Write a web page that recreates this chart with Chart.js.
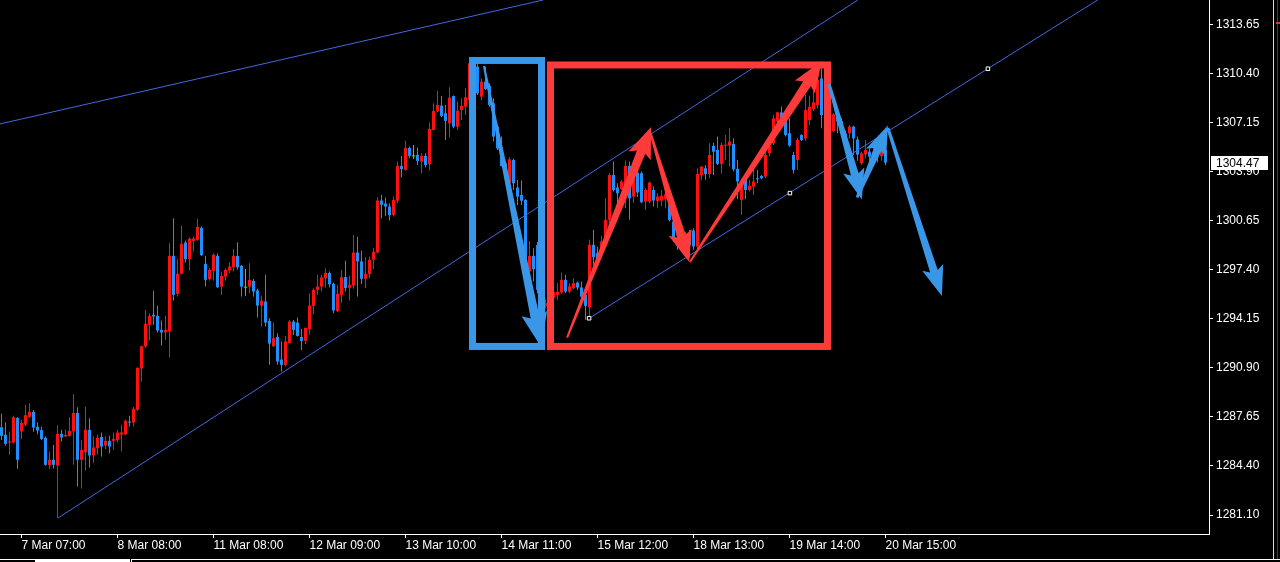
<!DOCTYPE html>
<html>
<head>
<meta charset="utf-8">
<script src="https://cdn.jsdelivr.net/npm/chart.js@4.4.1/dist/chart.umd.min.js"></script>
<style>
  html, body { margin: 0; padding: 0; background: #000; }
  #c { display: block; }
</style>
</head>
<body>
<canvas id="c" width="1280" height="562"></canvas>
<script>
// H1 bars, bar 0 = 7 Mar 07:00, first visible bar is -5
const firstBar = -5;

const opens = [
  1286.92, 1286.42, 1285.91, 1285.91, 1287.54, 1286.64, 1287.10, 1287.61, 1287.94, 1286.95,
  1286.73, 1286.22, 1284.41, 1284.76, 1284.38, 1286.48, 1286.31, 1286.35, 1286.64, 1287.87,
  1284.76, 1285.25, 1286.75, 1285.05, 1285.53, 1286.28, 1285.71, 1286.02, 1286.02, 1286.08,
  1286.44, 1286.44, 1287.28, 1287.24, 1288.08, 1290.82, 1292.28, 1293.72, 1294.38, 1294.31,
  1293.38, 1293.21, 1293.27, 1298.29, 1295.77, 1297.10, 1299.17, 1298.07, 1299.28, 1299.35,
  1300.15, 1297.76, 1296.74, 1297.30, 1298.29, 1296.25, 1296.91, 1297.31, 1297.53, 1298.28,
  1297.62, 1296.21, 1296.25, 1296.63, 1295.99, 1294.99, 1295.26, 1293.97, 1292.30, 1292.91,
  1291.41, 1291.06, 1292.52, 1293.93, 1293.86, 1292.91, 1292.65, 1293.45, 1294.97, 1296.03,
  1296.25, 1296.80, 1297.16, 1296.43, 1294.62, 1295.71, 1296.88, 1296.17, 1296.32, 1298.51,
  1297.92, 1296.77, 1297.08, 1298.03, 1298.51, 1301.96, 1301.76, 1301.56, 1301.01, 1301.96,
  1304.26, 1303.99, 1305.45, 1304.92, 1304.99, 1304.55, 1304.92, 1304.37, 1306.64, 1307.90,
  1308.25, 1307.74, 1307.08, 1308.89, 1306.86, 1307.96, 1308.19, 1308.63, 1311.00, 1310.84,
  1308.85, 1309.84, 1309.58, 1308.41, 1306.86, 1305.49, 1304.43, 1303.10, 1304.65, 1302.82,
  1302.33, 1302.00, 1297.25, 1298.29, 1299.01, 1295.90, 1294.95, 1295.10, 1295.50, 1295.70,
  1295.86, 1296.70, 1295.92, 1296.15, 1296.52, 1296.19, 1295.70, 1294.89, 1299.02, 1298.47,
  1298.47, 1299.13, 1300.68, 1303.66, 1302.82, 1302.71, 1302.22, 1304.26, 1302.22, 1303.80,
  1303.77, 1301.89, 1301.89, 1302.66, 1301.93, 1301.96, 1302.04, 1301.67, 1300.56, 1299.40,
  1298.95, 1299.39, 1299.80, 1299.97, 1298.91, 1303.66, 1304.10, 1303.72, 1305.58, 1305.31,
  1304.39, 1305.60, 1305.60, 1305.71, 1304.06, 1302.00, 1303.44, 1302.66, 1302.88, 1303.44,
  1303.59, 1303.55, 1305.09, 1305.75, 1307.19, 1307.80, 1307.41, 1306.42, 1304.98, 1304.65,
  1306.31, 1306.08, 1307.30, 1308.03, 1308.29, 1310.06, 1307.60, 1307.00, 1306.57, 1307.63,
  1307.23, 1306.40, 1306.42, 1306.86, 1306.00, 1304.43, 1305.02, 1305.20, 1305.02, 1305.20,
  1304.90, 1305.30
];
const highs = [
  1287.81, 1287.26, 1286.64, 1287.68, 1287.59, 1287.41, 1288.41, 1288.52, 1288.07, 1287.26,
  1286.97, 1286.31, 1285.31, 1285.75, 1287.06, 1286.75, 1286.75, 1287.59, 1289.13, 1288.25,
  1286.08, 1288.29, 1287.52, 1286.31, 1286.42, 1286.57, 1286.31, 1286.35, 1286.57, 1286.75,
  1287.09, 1287.42, 1287.68, 1288.26, 1290.90, 1292.32, 1294.71, 1294.49, 1295.97, 1294.98,
  1294.00, 1294.31, 1299.13, 1300.79, 1298.07, 1300.28, 1299.31, 1299.53, 1299.57, 1300.74,
  1300.23, 1298.29, 1297.49, 1298.47, 1298.47, 1297.25, 1297.47, 1297.87, 1298.75, 1299.19,
  1297.69, 1297.42, 1297.80, 1296.76, 1296.10, 1295.65, 1297.03, 1294.15, 1293.86, 1293.16,
  1292.61, 1292.98, 1294.04, 1294.04, 1294.20, 1293.45, 1293.53, 1295.81, 1296.14, 1297.03,
  1297.03, 1297.47, 1297.25, 1296.52, 1296.37, 1297.36, 1297.96, 1296.97, 1299.68, 1299.55,
  1298.62, 1298.20, 1298.25, 1298.82, 1302.18, 1302.34, 1302.16, 1301.78, 1302.22, 1304.55,
  1304.92, 1305.92, 1305.54, 1305.65, 1305.47, 1305.10, 1305.10, 1307.13, 1308.41, 1309.23,
  1308.89, 1308.30, 1309.47, 1308.92, 1308.52, 1308.74, 1309.40, 1311.17, 1311.20, 1311.06,
  1310.06, 1310.84, 1309.73, 1308.74, 1306.97, 1306.20, 1304.54, 1304.83, 1304.74, 1303.32,
  1303.28, 1302.05, 1299.28, 1298.79, 1299.20, 1297.00, 1295.40, 1296.00, 1296.20, 1296.48,
  1297.18, 1297.03, 1296.48, 1296.81, 1296.59, 1296.59, 1295.92, 1299.35, 1300.01, 1298.90,
  1299.60, 1302.11, 1303.77, 1304.54, 1303.11, 1303.33, 1304.61, 1304.54, 1304.20, 1304.60,
  1303.88, 1302.78, 1303.22, 1302.89, 1302.44, 1302.66, 1302.66, 1302.00, 1300.78, 1299.70,
  1299.85, 1299.90, 1300.00, 1300.12, 1304.10, 1304.25, 1304.32, 1305.76, 1305.80, 1306.20,
  1305.80, 1306.31, 1306.75, 1306.09, 1304.65, 1303.40, 1303.66, 1303.33, 1303.99, 1303.99,
  1303.66, 1305.42, 1306.08, 1307.63, 1307.85, 1308.20, 1307.52, 1307.41, 1305.20, 1306.13,
  1306.35, 1309.00, 1308.91, 1309.22, 1310.28, 1310.73, 1308.00, 1307.80, 1307.74, 1307.74,
  1307.41, 1306.60, 1306.97, 1306.92, 1306.20, 1305.20, 1305.97, 1305.42, 1305.64, 1305.50,
  1305.60, 1305.60
];
const lows = [
  1286.08, 1285.69, 1285.09, 1285.86, 1284.16, 1286.13, 1287.01, 1287.54, 1286.62, 1286.46,
  1286.08, 1284.36, 1284.14, 1284.18, 1280.91, 1285.97, 1286.26, 1286.31, 1284.43, 1282.99,
  1282.86, 1284.05, 1284.25, 1284.54, 1285.09, 1284.98, 1285.47, 1285.20, 1285.42, 1285.93,
  1285.32, 1286.40, 1286.97, 1286.97, 1288.00, 1289.96, 1292.20, 1292.68, 1293.72, 1293.21,
  1292.32, 1292.72, 1291.57, 1295.33, 1295.59, 1297.05, 1297.85, 1297.32, 1298.58, 1299.31,
  1298.29, 1296.26, 1296.65, 1296.65, 1296.15, 1295.70, 1296.63, 1297.14, 1297.25, 1297.36,
  1295.59, 1295.65, 1295.81, 1295.59, 1294.20, 1293.60, 1293.60, 1291.06, 1292.25, 1291.06,
  1290.62, 1290.95, 1292.47, 1293.05, 1292.94, 1292.05, 1292.45, 1293.05, 1294.42, 1295.70,
  1295.92, 1296.19, 1296.19, 1294.49, 1294.56, 1295.15, 1295.93, 1295.33, 1296.10, 1295.59,
  1296.43, 1296.15, 1296.81, 1297.41, 1298.45, 1300.79, 1300.94, 1300.63, 1300.90, 1301.78,
  1303.51, 1303.95, 1304.77, 1304.72, 1304.32, 1303.77, 1304.15, 1303.95, 1306.60, 1307.82,
  1307.48, 1305.98, 1306.15, 1306.75, 1306.64, 1307.30, 1307.63, 1308.52, 1310.30, 1308.96,
  1308.63, 1309.29, 1308.19, 1305.87, 1305.31, 1304.21, 1303.55, 1303.06, 1302.66, 1301.67,
  1301.67, 1296.91, 1296.80, 1296.58, 1295.80, 1295.20, 1294.80, 1294.90, 1295.30, 1295.37,
  1295.77, 1295.81, 1295.81, 1296.08, 1296.03, 1295.37, 1294.05, 1294.16, 1297.69, 1297.80,
  1298.20, 1298.90, 1299.57, 1302.55, 1300.68, 1302.66, 1301.45, 1300.68, 1301.80, 1302.20,
  1301.78, 1301.34, 1301.78, 1301.56, 1301.45, 1301.60, 1301.45, 1300.56, 1299.20, 1298.70,
  1298.80, 1298.91, 1298.20, 1298.68, 1298.68, 1303.33, 1303.33, 1303.44, 1303.66, 1304.32,
  1303.77, 1304.65, 1304.21, 1303.88, 1302.04, 1301.01, 1302.04, 1302.55, 1302.33, 1303.10,
  1303.37, 1303.44, 1304.90, 1305.64, 1306.97, 1307.30, 1306.20, 1305.53, 1303.76, 1303.99,
  1305.91, 1305.91, 1306.97, 1307.90, 1308.07, 1306.75, 1306.80, 1306.80, 1306.48, 1306.42,
  1306.35, 1305.70, 1306.08, 1304.98, 1304.60, 1304.32, 1304.76, 1304.58, 1304.98, 1304.50,
  1304.60, 1304.30
];
const closes = [
  1286.35, 1285.82, 1285.97, 1287.59, 1284.76, 1287.21, 1287.72, 1287.94, 1286.90, 1286.70,
  1286.15, 1284.43, 1284.76, 1284.43, 1286.48, 1286.24, 1286.42, 1286.68, 1287.87, 1284.76,
  1285.42, 1286.75, 1285.05, 1285.58, 1286.22, 1285.64, 1286.02, 1285.64, 1286.15, 1286.57,
  1286.58, 1287.35, 1287.24, 1288.15, 1290.86, 1292.30, 1293.78, 1294.31, 1294.27, 1293.34,
  1293.21, 1293.38, 1298.29, 1295.70, 1297.10, 1299.09, 1298.07, 1299.42, 1299.44, 1300.21,
  1298.33, 1296.70, 1297.36, 1298.36, 1296.21, 1296.96, 1297.36, 1297.58, 1298.28, 1297.53,
  1296.25, 1296.21, 1296.69, 1295.92, 1294.99, 1295.32, 1293.86, 1292.47, 1292.83, 1291.28,
  1291.06, 1292.61, 1293.93, 1293.38, 1292.98, 1292.65, 1293.51, 1294.99, 1296.03, 1296.25,
  1296.85, 1297.16, 1296.40, 1294.67, 1295.77, 1296.88, 1296.15, 1296.37, 1298.51, 1297.92,
  1296.77, 1297.10, 1298.03, 1298.56, 1301.96, 1301.67, 1301.56, 1300.99, 1302.00, 1304.26,
  1304.04, 1305.45, 1304.92, 1304.92, 1304.59, 1304.92, 1304.32, 1306.71, 1307.90, 1308.30,
  1307.57, 1307.24, 1308.78, 1306.86, 1307.92, 1308.23, 1308.80, 1311.06, 1310.80, 1309.07,
  1309.84, 1309.36, 1308.30, 1306.20, 1305.42, 1304.25, 1303.77, 1304.69, 1303.10, 1302.22,
  1301.95, 1298.02, 1298.29, 1297.40, 1296.03, 1296.50, 1295.15, 1295.60, 1295.90, 1295.90,
  1296.70, 1295.92, 1296.26, 1296.48, 1296.19, 1295.59, 1294.97, 1299.02, 1298.20, 1298.02,
  1299.24, 1300.68, 1303.66, 1302.66, 1302.44, 1303.22, 1304.26, 1302.11, 1303.77, 1302.50,
  1301.85, 1302.66, 1303.15, 1301.96, 1302.22, 1302.27, 1302.38, 1300.67, 1299.35, 1298.95,
  1299.60, 1299.79, 1299.00, 1298.91, 1303.72, 1304.21, 1303.72, 1304.98, 1305.20, 1304.39,
  1305.65, 1305.65, 1305.87, 1304.03, 1303.22, 1303.10, 1302.66, 1302.93, 1303.22, 1303.37,
  1303.44, 1304.98, 1305.60, 1307.41, 1307.81, 1307.45, 1306.31, 1305.60, 1303.99, 1305.97,
  1305.97, 1307.96, 1308.18, 1308.47, 1309.95, 1307.63, 1307.00, 1307.50, 1307.68, 1307.19,
  1306.42, 1305.90, 1306.86, 1306.08, 1305.00, 1305.09, 1305.31, 1304.87, 1305.20, 1304.90,
  1305.30, 1304.47
];

// time axis labels, one every 24 bars
const timeTickBars = [0, 24, 48, 72, 96, 120, 144, 168, 192, 216];
const timeTickLabels = ['7 Mar 07:00', '8 Mar 08:00', '11 Mar 08:00', '12 Mar 09:00', '13 Mar 10:00',
  '14 Mar 11:00', '15 Mar 12:00', '18 Mar 13:00', '19 Mar 14:00', '20 Mar 15:00'];

// price axis
const priceTicks = [1313.65, 1310.40, 1307.15, 1303.90, 1300.65, 1297.40, 1294.15, 1290.90, 1287.65, 1284.40, 1281.10];
const priceTickLabels = ['1313.65', '1310.40', '1307.15', '1303.90', '1300.65', '1297.40', '1294.15', '1290.90', '1287.65', '1284.40', '1281.10'];
const lastPrice = 1304.47;

// drawn objects, in [bar, price]
const trendLines = [
  [[-5.375, 1307.04], [130.4, 1315.26]],
  [[9.125, 1280.90], [209.1, 1315.26]],
  [[141.9, 1294.15], [270.0, 1315.42]]
];
const anchorPoints = [[141.9, 1294.15], [192.1, 1302.45], [241.6, 1310.70]];
const blueBox = [[112.75, 1311.25], [130.0, 1292.28]];
const redBox = [[132.25, 1310.95], [201.5, 1292.28]];
const redArrows = [
  [[136.4, 1292.86], [157.4, 1306.83]],
  [[157.1, 1306.57], [166.9, 1297.88]],
  [[167.1, 1297.88], [200.1, 1311.21]]
];
const blueArrows = [
  [[115.6, 1310.88], [129.9, 1292.25]],
  [[201.9, 1309.68], [210.1, 1302.03]],
  [[208.9, 1302.16], [216.6, 1306.93]],
  [[216.6, 1306.77], [230.1, 1295.63]]
];

const BULL = '#ff1010';
const BEAR = '#1e8fff';
const DOJI = '#00ff00';
const RED_MARK = '#ff3a3a';
const BLUE_MARK = '#3a97e8';

const bars = opens.map((o, k) => firstBar + k);
const candleColors = opens.map((o, k) => closes[k] > o ? BULL : closes[k] < o ? BEAR : DOJI);

const wickData = bars.map((b, k) => ({ x: b, y: [lows[k], highs[k]] }));
const bodyData = bars.map((b, k) => {
  let lo = Math.min(opens[k], closes[k]), hi = Math.max(opens[k], closes[k]);
  if (hi - lo < 0.07) { const m = (hi + lo) / 2; lo = m - 0.035; hi = m + 0.035; }
  return { x: b, y: [lo, hi] };
});

function drawArrow(ctx, x0, y0, x1, y1, color, s) {
  const len = Math.hypot(x1 - x0, y1 - y0);
  const dx = (x1 - x0) / len, dy = (y1 - y0) / len;
  const nx = -dy, ny = dx;
  const bx = x1 - dx * s.head, by = y1 - dy * s.head;
  ctx.fillStyle = color;
  ctx.beginPath();
  ctx.moveTo(x0 + nx * s.tail / 2, y0 + ny * s.tail / 2);
  ctx.lineTo(bx + nx * s.shaft / 2, by + ny * s.shaft / 2);
  ctx.lineTo(bx + nx * s.width / 2 - dx * 4, by + ny * s.width / 2 - dy * 4);
  ctx.lineTo(x1, y1);
  ctx.lineTo(bx - nx * s.width / 2 - dx * 4, by - ny * s.width / 2 - dy * 4);
  ctx.lineTo(bx - nx * s.shaft / 2, by - ny * s.shaft / 2);
  ctx.lineTo(x0 - nx * s.tail / 2, y0 - ny * s.tail / 2);
  ctx.closePath();
  ctx.fill();
}

const overlay = {
  id: 'overlay',
  afterDatasetsDraw(chart) {
    const { ctx, chartArea: a, scales: { x, y } } = chart;
    ctx.save();
    ctx.beginPath();
    ctx.rect(a.left, a.top, a.right - a.left, a.bottom - a.top);
    ctx.clip();

    [[blueBox, BLUE_MARK], [redBox, RED_MARK]].forEach(([b, col]) => {
      const x0 = x.getPixelForValue(b[0][0]), y0 = y.getPixelForValue(b[0][1]);
      const x1 = x.getPixelForValue(b[1][0]), y1 = y.getPixelForValue(b[1][1]);
      ctx.strokeStyle = col;
      ctx.lineWidth = 7;
      ctx.strokeRect(x0, y0, x1 - x0, y1 - y0);
    });

    const px = p => [x.getPixelForValue(p[0]), y.getPixelForValue(p[1])];
    redArrows.forEach(([t, h]) => {
      const [x0, y0] = px(t), [x1, y1] = px(h);
      drawArrow(ctx, x0, y0, x1, y1, RED_MARK, { tail: 2, shaft: 9, width: 24, head: 27 });
    });
    blueArrows.forEach(([t, h], k) => {
      const [x0, y0] = px(t), [x1, y1] = px(h);
      const s = k === 0 ? { tail: 2, shaft: 9, width: 26, head: 30 } : { tail: 3, shaft: 8, width: 22, head: 26 };
      drawArrow(ctx, x0, y0, x1, y1, BLUE_MARK, s);
    });
    ctx.restore();
  },
  afterDraw(chart) {
    const { ctx, scales: { y } } = chart;
    ctx.save();
    // current price label
    const py = Math.round(y.getPixelForValue(lastPrice));
    ctx.fillStyle = '#ffffff';
    ctx.fillRect(1211, py - 7, 57, 14);
    ctx.fillStyle = '#000000';
    ctx.font = '12px "Liberation Sans", Arial, sans-serif';
    ctx.textBaseline = 'middle';
    ctx.fillText(lastPrice.toFixed(2), 1216, py + 0.5);
    // window frame at the right
    ctx.fillStyle = '#d8d8d8';
    ctx.fillRect(1273, 0, 1, 559);
    ctx.fillStyle = '#1c3f8c';
    ctx.fillRect(1277, 0, 1, 559);
    ctx.fillStyle = '#e03030';
    ctx.fillRect(1276, 22, 4, 2);
    // tabs at the bottom
    ctx.fillStyle = '#ffffff';
    ctx.fillRect(0, 559, 36, 1);
    ctx.fillRect(35, 559, 1, 3);
    ctx.fillRect(36, 559, 94, 3);
    ctx.fillRect(131, 559, 1149, 1);
    ctx.fillRect(131, 559, 1, 3);
    ctx.restore();
  }
};

new Chart(document.getElementById('c'), {
  type: 'bar',
  data: {
    datasets: [
      ...trendLines.map(l => ({
        type: 'line',
        data: l.map(p => ({ x: p[0], y: p[1] })),
        borderColor: '#4468e0',
        borderWidth: 1,
        pointRadius: 0,
        order: 1
      })),
      {
        type: 'line',
        data: anchorPoints.map(p => ({ x: p[0], y: p[1] })),
        showLine: false,
        pointStyle: 'rect',
        pointRadius: 2.5,
        pointBackgroundColor: '#000',
        pointBorderColor: '#fff',
        pointBorderWidth: 1,
        order: 0
      },
      {
        data: bodyData,
        backgroundColor: candleColors,
        barThickness: 3,
        grouped: false,
        inflateAmount: 0,
        borderWidth: 0,
        order: 2
      },
      {
        data: wickData,
        backgroundColor: candleColors,
        barThickness: 1,
        grouped: false,
        inflateAmount: 0,
        borderWidth: 0,
        order: 3
      }
    ]
  },
  options: {
    responsive: false,
    animation: false,
    events: [],
    layout: { padding: 0, autoPadding: false },
    plugins: { legend: { display: false }, tooltip: { enabled: false } },
    scales: {
      x: {
        type: 'linear',
        min: -5.375,
        max: 296.875,
        offset: false,
        afterBuildTicks: s => { s.ticks = timeTickBars.map(v => ({ value: v })); },
        afterFit: s => { s.height = 28; s.paddingLeft = 0; s.paddingRight = 0; },
        grid: { display: true, drawOnChartArea: false, drawTicks: true, tickLength: 4, color: '#ffffff', offset: false },
        border: { display: true, color: '#ffffff', width: 1 },
        ticks: {
          autoSkip: false,
          maxRotation: 0,
          align: 'start',
          padding: 0,
          color: '#ffffff',
          font: { family: '"Liberation Sans", Arial, sans-serif', size: 12 },
          callback: (v, i) => timeTickLabels[i]
        }
      },
      y: {
        type: 'linear',
        position: 'right',
        min: 1279.84,
        max: 1315.26,
        afterBuildTicks: s => { s.ticks = priceTicks.map(v => ({ value: v })); },
        afterFit: s => { s.width = 71; s.paddingTop = 0; s.paddingBottom = 0; },
        grid: { display: true, drawOnChartArea: false, drawTicks: true, tickLength: 4, color: '#ffffff' },
        border: { display: true, color: '#ffffff', width: 1 },
        ticks: {
          autoSkip: false,
          padding: 3,
          color: '#ffffff',
          font: { family: '"Liberation Sans", Arial, sans-serif', size: 12 },
          callback: (v, i) => priceTickLabels[i]
        }
      }
    }
  },
  plugins: [overlay]
});
</script>
</body>
</html>
